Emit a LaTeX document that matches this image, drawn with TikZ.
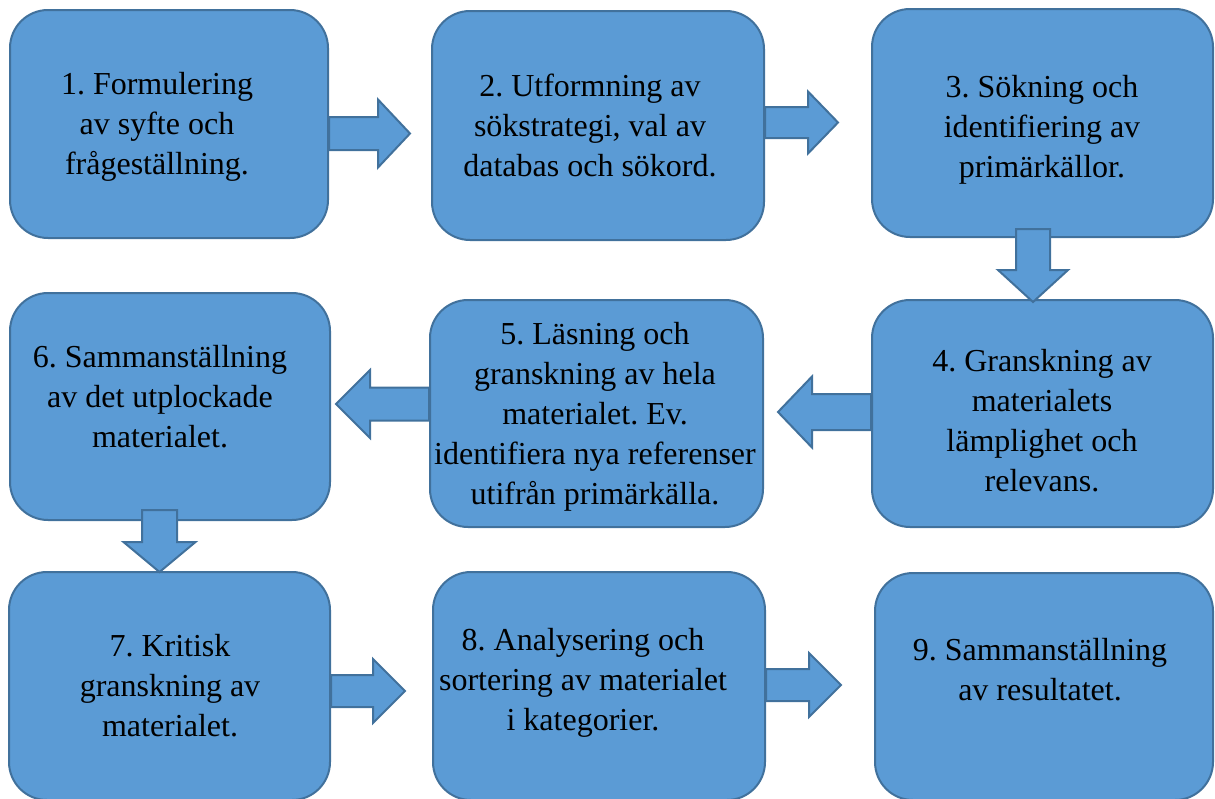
\documentclass[tikz,border=0pt]{standalone}
\usepackage{fontspec}
\setmainfont{Liberation Serif}
\frenchspacing
\definecolor{boxfill}{HTML}{5B9BD5}
\definecolor{boxline}{HTML}{41719C}
\tikzset{
  box/.style={draw=boxline, fill=boxfill, line width=2pt, rounded corners=38pt, inner sep=0pt},
  lbl/.style={align=center, font=\fontsize{32}{40}\selectfont, text=black, inner sep=0pt},
  blk/.style={draw=boxline, fill=boxfill, line width=2pt, line join=miter},
}
% horizontal block arrow: #1 start node anchor, #2 centre y, #3 shaft half width, #4 head base x, #5 head half width, #6 tip coordinate name
\newcommand{\harr}[6]{%
  \draw[blk] (#1 |- 0,#2-#3) -- (#4,#2-#3) -- (#4,#2-#5) -- (#6) -- (#4,#2+#5) -- (#4,#2+#3) -- (#1 |- 0,#2+#3) -- cycle;}
% vertical block arrow: #1 centre x, #2 start y, #3 shaft half width, #4 head base y, #5 head half width, #6 tip coordinate name
\newcommand{\varr}[6]{%
  \draw[blk] (#1-#3,#2) -- (#1-#3,#4) -- (#1-#5,#4) -- (#6) -- (#1+#5,#4) -- (#1+#3,#4) -- (#1+#3,#2) -- cycle;}
\begin{document}
\begin{tikzpicture}[x=1pt,y=-1pt]
\useasboundingbox (0,0) rectangle (1215,798);
% boxes
\node[box, minimum width=318pt, minimum height=228pt] (b1) at (169,124) {};
\node[box, minimum width=332pt, minimum height=229pt] (b2) at (598,125.5) {};
\node[box, minimum width=341pt, minimum height=228pt] (b3) at (1042.5,123) {};
\node[box, minimum width=341pt, minimum height=227pt] (b4) at (1042.5,413.5) {};
\node[box, minimum width=333pt, minimum height=227pt] (b5) at (596.5,413.5) {};
\node[box, minimum width=320pt, minimum height=227pt] (b6) at (170,406.5) {};
\node[box, minimum width=321pt, minimum height=228pt] (b7) at (169.5,686) {};
\node[box, minimum width=332pt, minimum height=228pt] (b8) at (599,686) {};
\node[box, minimum width=338pt, minimum height=227pt] (b9) at (1044,686.5) {};
% labels
\node[lbl] (t1) at (157,127) {1. Formulering\\av syfte och\\frågeställning.};
\node[lbl] (t2) at (590,125) {2. Utformning av\\sökstrategi, val av\\databas och sökord.};
\node[lbl] (t3) at (1042,130) {3. Sökning och\\identifiering av\\primärkällor.};
\node[lbl] (t4) at (1042,421) {4. Granskning av\\materialets\\lämplighet och\\relevans.};
\node[lbl] (t5) at (595,417) {5. Läsning och\\granskning av hela\\materialet. Ev.\\identifiera nya referenser\\utifrån primärkälla.};
\node[lbl] (t6) at (160,397) {6. Sammanställning\\av det utplockade\\materialet.};
\node[lbl] (t7) at (170,686) {7. Kritisk\\granskning av\\materialet.};
\node[lbl] (t8) at (583,683) {8. Analysering och\\sortering av materialet\\i kategorier.};
\node[lbl] (t9) at (1040,670) {9. Sammanställning\\av resultatet.};
% arrow tips
\coordinate (p12) at (410,133.5);
\coordinate (p23) at (838,122.5);
\coordinate (p34) at (1033,302);
\coordinate (p45) at (778,412);
\coordinate (p56) at (336,404);
\coordinate (p67) at (159.5,572);
\coordinate (p78) at (405,691);
\coordinate (p89) at (841,685);
% arrows
\harr{b1.east}{133.5}{16.5}{378}{34}{p12}
\harr{b2.east}{122.5}{15.5}{808}{31}{p23}
\varr{1033}{229}{17}{270}{35}{p34}
\harr{b4.west}{412}{18}{812}{35.5}{p45}
\harr{b5.west}{404}{16.5}{370}{34}{p56}
\varr{159.5}{510}{17.5}{542}{36}{p67}
\harr{b7.east}{691}{16}{373}{32}{p78}
\harr{b8.east}{685}{16}{809}{32}{p89}
\end{tikzpicture}
\end{document}
